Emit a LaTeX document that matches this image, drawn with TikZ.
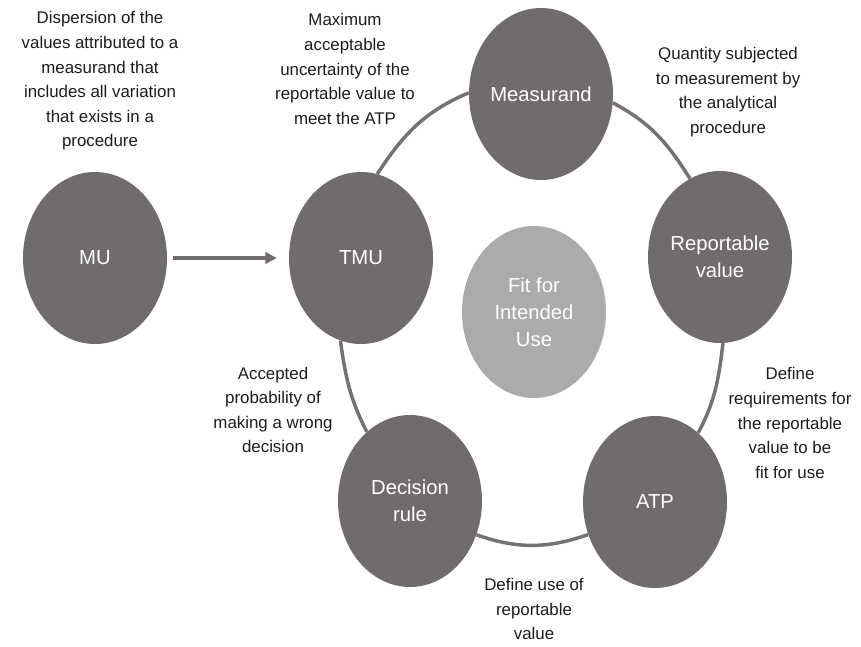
\documentclass[tikz,border=0pt]{standalone}
\usepackage{fontspec}
\setmainfont{Liberation Sans}
\usepackage{tikz}
\usetikzlibrary{arrows.meta}
\usetikzlibrary{shapes.geometric}

\definecolor{ringgray}{RGB}{118,114,114}
\definecolor{stategray}{RGB}{112,108,108}
\definecolor{fitgray}{RGB}{173,170,170}
\definecolor{notegray}{RGB}{28,28,28}

\begin{document}
\begin{tikzpicture}[x=0.3mm,y=0.3mm,
  >={Triangle[length=3.4mm,width=3.4mm]},
  ring/.style={draw=ringgray,line width=1.05mm},
  note/.style={align=center,text=notegray,inner sep=0pt,font=\fontsize{14.4}{21}\selectfont},
  term/.style={ellipse,fill=stategray,draw=none,minimum width=43.2mm,minimum height=51.6mm,inner sep=0pt,align=center,text=white,font=\fontsize{17.3}{23}\selectfont}]
  \useasboundingbox (0,0) rectangle (861,-646);

     \node [term] (MU) at (95,-258) {MU};
     \node [term] (TMU) at (361,-258) {TMU};
     \node [term] (Meas) at (541,-94) {Measurand};
     \node [term] (Rep) at (720,-257) {Reportable\\value};
     \node [term] (ATP) at (655,-502) {ATP};
     \node [term] (Dec) at (410,-501) {Decision\\rule};
     \node [term,fill=fitgray] (Fit) at (534,-312) {Fit for\\Intended\\Use};

     \path
	(Meas.-7) edge[ring,out=-28,in=122] (Rep.111)
	(Rep.-88) edge[ring,out=-97,in=62] (ATP.58)
	(ATP.-154) edge[ring,out=-161,in=-19] (Dec.-27)
	(Dec.122) edge[ring,out=117,in=-82] (TMU.-104)
	(TMU.79) edge[ring,out=57,in=-157] (Meas.179);

     \draw[->,draw=stategray,fill=stategray,line width=1.1mm,shorten <=1.8mm,shorten >=3.6mm] (MU) -- (TMU);

     \node [note] (T1) at (100,-81) {Dispersion of the\\values attributed to a\\measurand that\\includes all variation\\that exists in a\\procedure};
     \node [note] (T2) at (345,-69) {Maximum\\acceptable\\uncertainty of the\\reportable value to\\meet the ATP};
     \node [note] (T3) at (728,-92) {Quantity subjected\\to measurement by\\the analytical\\procedure};
     \node [note] (T4) at (790,-423) {Define\\requirements for\\the reportable\\value to be\\fit for use};
     \node [note] (T5) at (534,-609) {Define use of\\reportable\\value};
     \node [note] (T6) at (273,-410) {Accepted\\probability of\\making a wrong\\decision};

  \end{tikzpicture}
\end{document}
